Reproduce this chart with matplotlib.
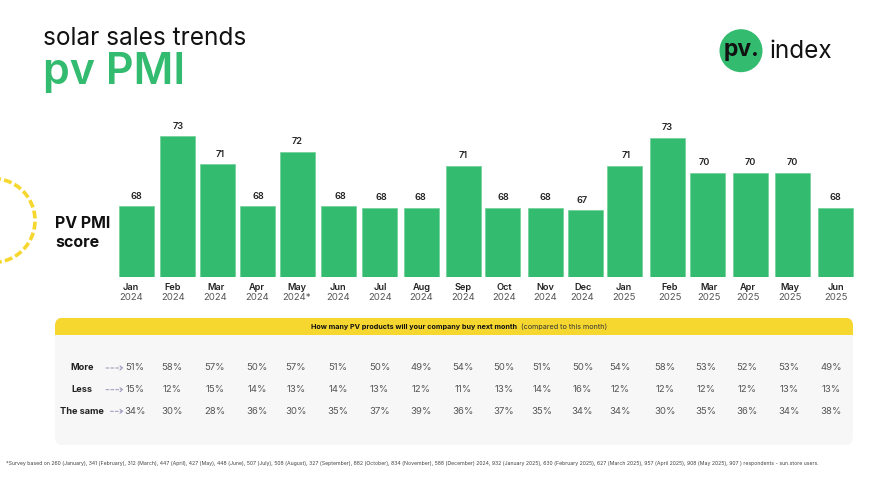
import numpy as np
import matplotlib
matplotlib.use('Agg')
import matplotlib.pyplot as plt
from matplotlib.patches import FancyBboxPatch, Rectangle, Circle, Arc

plt.rcParams['font.family'] = ['Inter', 'DejaVu Sans']

### data
months = ['Jan', 'Feb', 'Mar', 'Apr', 'May', 'Jun', 'Jul', 'Aug', 'Sep', 'Oct', 'Nov', 'Dec',
          'Jan', 'Feb', 'Mar', 'Apr', 'May', 'Jun']
years = ['2024'] * 12 + ['2025'] * 6
years[4] = '2024*'
score_labels = [68, 73, 71, 68, 72, 68, 68, 68, 71, 68, 68, 67, 71, 73, 70, 70, 70, 68]
# drawn bar heights are not exactly the printed scores
bar_heights = [68.1, 73.1, 71.1, 68.1, 72.0, 68.1, 68.0, 68.0, 71.0, 68.0, 68.0, 67.8,
               71.0, 73.0, 70.5, 70.5, 70.5, 68.0]
more = [51, 58, 57, 50, 57, 51, 50, 49, 54, 50, 51, 50, 54, 58, 53, 52, 53, 49]
less = [15, 12, 15, 14, 13, 14, 13, 12, 11, 13, 14, 16, 12, 12, 12, 12, 13, 13]
same = [34, 30, 28, 36, 30, 35, 37, 39, 36, 37, 35, 34, 34, 30, 35, 36, 34, 38]
row_names = ['More', 'Less', 'The same']

footnote = ('*Survey based on 260 (January), 341 (February), 312 (March), 447 (April), 427 (May), '
            '448 (June), 507 (July), 508 (August), 327 (September), 882 (October), 834 (November), '
            '588 (December) 2024, 932 (January 2025), 630 (February 2025), 627 (March 2025), '
            '957 (April 2025), 908 (May 2025), 907 ) respondents - sun.store users.')

### layout, in pixels of the 872x491 picture
bar_x = [136, 177, 217.5, 257, 297.5, 338.5, 379.5, 421.5, 463.5, 502.5, 545, 585.5,
         624.5, 667, 707.5, 750, 792.5, 835]
value_x = [136, 178, 220, 258, 297, 340.5, 381, 420, 463, 503, 545.5, 582,
           626, 667, 704, 750, 792, 835]
month_x = [131, 173, 215.5, 257, 297, 338, 380, 421.5, 463.5, 504.5, 545.5, 582.5,
           624, 669.5, 709, 747.5, 790, 835.5]
table_x = [135, 172, 215, 257, 296, 338, 379.5, 421, 463, 504, 542, 582.5,
           620, 665, 706, 747, 789, 831]
row_y = [368, 389.7, 411.3]

GREEN = '#33BB6F'
YELLOW = '#F6D730'
PANEL = '#F7F7F7'
DARK = '#222222'
GREY = '#555555'

fig = plt.figure(figsize=(8.72, 4.91), dpi=100)

# background axes in pixel coords, everything that is not a bar goes here
bg = fig.add_axes([0, 0, 1, 1])
bg.set_xlim(0, 872)
bg.set_ylim(491, 0)
bg.axis('off')

bg.text(43, 38, 'solar sales trends', fontsize=17.6, color='#111111', va='center', ha='left')
bg.text(43, 72, 'pv PMI', fontsize=31, color=GREEN, fontweight='semibold', va='center', ha='left')

# logo
bg.add_patch(Circle((741, 50.7), 21.5, color=GREEN, lw=0))
bg.text(741, 50, 'pv.', fontsize=16.5, fontweight='bold', color='#111111', ha='center', va='center')
bg.text(769.5, 51, 'index', fontsize=17.5, color='#111111', ha='left', va='center')

# dashed sun on the left edge
bg.add_patch(Arc((-7, 220.5), 84, 84, theta1=-90, theta2=90, color=YELLOW, lw=2.6, ls=(0, (2.2, 0.9))))

bg.text(55, 224, 'PV PMI', fontsize=11.5, fontweight='bold', color='#111111', va='center')
bg.text(55, 242, 'score', fontsize=11.5, fontweight='bold', color='#111111', va='center')

# panel with the yellow header
bg.add_patch(FancyBboxPatch((55, 317.7), 798, 127.3, boxstyle='round,pad=0,rounding_size=8',
                            fc=PANEL, ec='none'))
head = FancyBboxPatch((55, 317.7), 798, 127.3, boxstyle='round,pad=0,rounding_size=8',
                      fc=YELLOW, ec='none')
bg.add_patch(head)
head.set_clip_path(Rectangle((55, 317.7), 798, 17.3, transform=bg.transData))
bg.text(516.5, 327, 'How many PV products will your company buy next month', fontsize=5.2,
        fontweight='bold', color='#111111', ha='right', va='center')
bg.text(520.5, 327, '(compared to this month)', fontsize=5.2, color='#333333', ha='left', va='center')

# month labels
for x, m, yr in zip(month_x, months, years):
    bg.text(x, 288, m, fontsize=6.6, fontweight='semibold', color=DARK, ha='center', va='center')
    bg.text(x, 297, yr, fontsize=6.9, color=GREY, ha='center', va='center')

# table
for y, name, vals in zip(row_y, row_names, [more, less, same]):
    bg.text(82.3, y, name, fontsize=6.6, fontweight='bold', color=DARK, ha='center', va='center')
    x0 = 110.5 if name == 'The same' else 106
    bg.annotate('', xy=(123.5, y), xytext=(x0, y),
                arrowprops=dict(arrowstyle='->,head_length=0.2,head_width=0.15', color='#9A94B8',
                                lw=0.7, ls=(0, (3, 2)), shrinkA=0, shrinkB=0))
    for x, v in zip(table_x, vals):
        bg.text(x, y, '%d%%' % v, fontsize=6.9, color=GREY, ha='center', va='center')

bg.text(6, 464, footnote, fontsize=3.75, color='#444444', ha='left', va='center')

# bars on their own value scale, x still in picture pixels
y_top, y_bottom = 120, 277
ax = fig.add_axes([0, 1 - y_bottom / 491, 1, (y_bottom - y_top) / 491])
ax.patch.set_alpha(0)
ax.set_xlim(0, 872)
ax.set_ylim(63.04, 63.04 + (y_bottom - y_top) / 14)
ax.axis('off')
ax.bar(bar_x, bar_heights, width=35, color=GREEN, edgecolor='#6FD097', linewidth=0.5, bottom=0)
for x, xl, h, lab in zip(bar_x, value_x, bar_heights, score_labels):
    ax.text(xl, h + 0.72, str(lab), fontsize=6.6, fontweight='semibold', color=DARK, ha='center', va='center')

fig.savefig('out.png', dpi=100)
